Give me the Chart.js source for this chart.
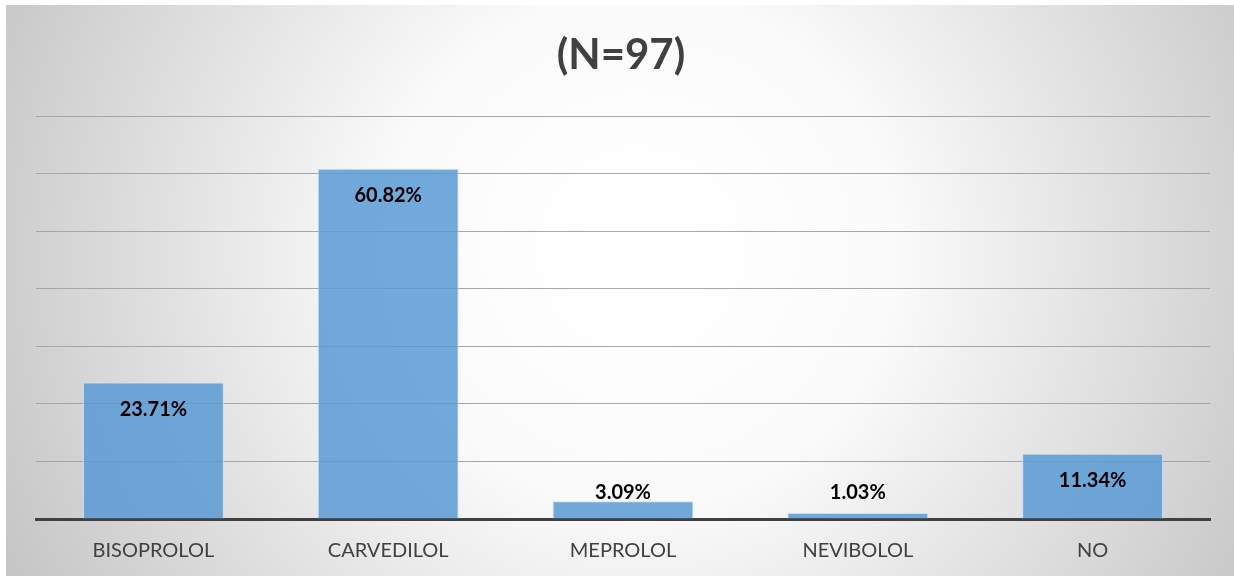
<!DOCTYPE html>
<html>
<head>
<meta charset="utf-8">
<script src="https://cdn.jsdelivr.net/npm/chart.js@4/dist/chart.umd.min.js"></script>
<style>
  html, body { margin: 0; padding: 0; background: #fff; }
  #wrap { width: 1234px; height: 578px; position: relative; }
</style>
</head>
<body>
<div id="wrap"><canvas id="bars"></canvas></div>
<script>
const title = '(N=97)';
const categories = ['BISOPROLOL', 'CARVEDILOL', 'MEPROLOL', 'NEVIBOLOL', 'NO'];
const percents = [23.71, 60.82, 3.09, 1.03, 11.34];
const yMax = 70;
const yStep = 10;

// background of the chart frame, light radial shading like office charts
const frameBg = {
    id: 'frameBg',
    beforeDraw(chart){
        const ctx = chart.ctx;
        ctx.save();
        let g = ctx.createRadialGradient(640, 250, 60, 640, 250, 720);
        g.addColorStop(0, '#ffffff');
        g.addColorStop(0.3, '#fafafa');
        g.addColorStop(1, '#c4c4c4');
        ctx.fillStyle = g;
        ctx.fillRect(6, 5, 1228, 571);
        // title
        ctx.fillStyle = '#404040';
        ctx.font = 'bold 42px Lato, "Liberation Sans", sans-serif';
        ctx.textAlign = 'center';
        ctx.textBaseline = 'middle';
        ctx.fillText(title, 621, 55);
        ctx.restore();
    }
};

// value labels: inside the top of the bar, or just above the axis for short bars
const valueLabels = {
    id: 'valueLabels',
    afterDatasetsDraw(chart){
        const ctx = chart.ctx;
        const meta = chart.getDatasetMeta(0);
        ctx.save();
        ctx.fillStyle = '#000';
        ctx.font = 'bold 20px Lato, "Liberation Sans", sans-serif';
        ctx.textAlign = 'center';
        ctx.textBaseline = 'middle';
        meta.data.forEach((bar, i) => {
            let y = Math.min(bar.y + 27, bar.base - 26);
            ctx.fillText(percents[i].toFixed(2) + '%', bar.x, y);
        });
        ctx.restore();
    }
};

new Chart(document.getElementById('bars').getContext('2d'), {
    type: 'bar',
    data: {
        labels: categories,
        datasets: [{
            data: percents,
            backgroundColor: 'rgba(91, 155, 213, 0.86)',
            borderColor: 'rgba(200, 222, 242, 0.9)',
            borderWidth: 1,
            categoryPercentage: 0.6,
            barPercentage: 1,
        }],
    },
    options: {
        responsive: true,
        maintainAspectRatio: false,
        animation: false,
        layout: {
            padding: {left: 36, right: 24, top: 116, bottom: 3}
        },
        plugins: {
            legend: {display: false},
            tooltip: {enabled: false},
        },
        scales: {
            x: {
                grid: {display: false},
                border: {display: true, color: '#404040', width: 3},
                ticks: {
                    color: '#404040',
                    padding: 12,
                    font: {family: 'Lato, "Liberation Sans", sans-serif', size: 20}
                }
            },
            y: {
                min: 0,
                max: yMax,
                ticks: {display: false, stepSize: yStep},
                border: {display: false},
                grid: {color: '#a6a6a6', lineWidth: 1, drawTicks: false}
            }
        }
    },
    plugins: [frameBg, valueLabels]
});
</script>
</body>
</html>
